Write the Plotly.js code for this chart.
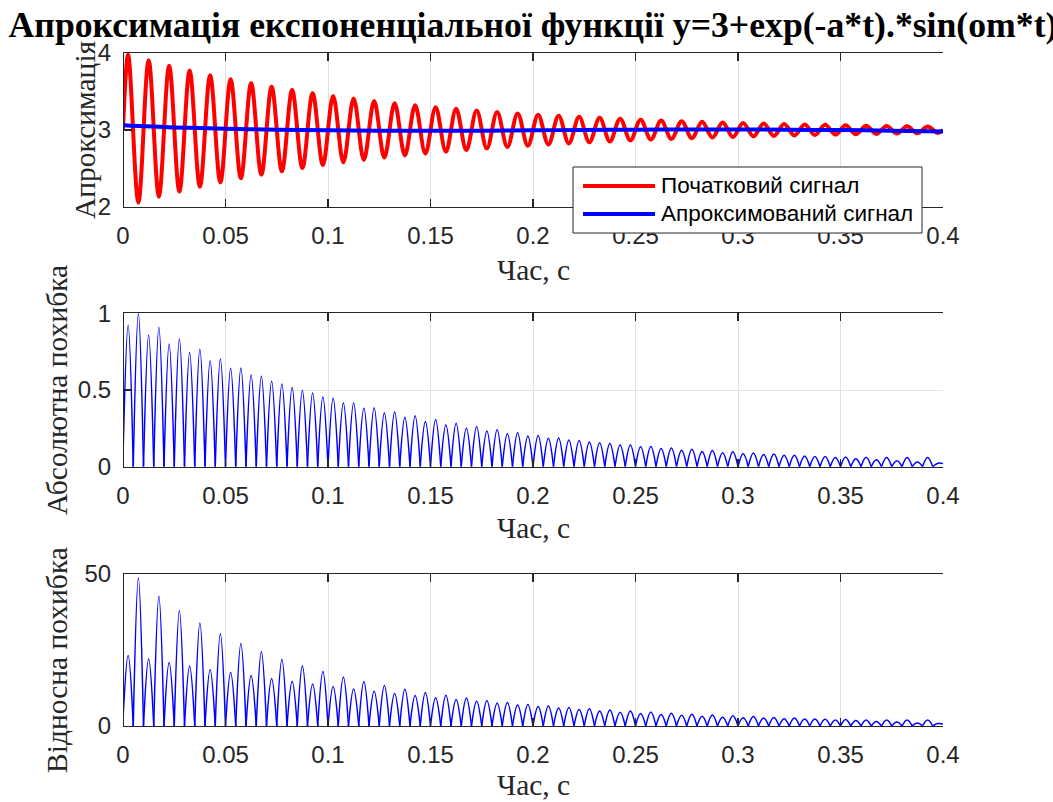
<!DOCTYPE html>
<html>
<head>
<meta charset="utf-8">
<script src="https://cdn.plot.ly/plotly-3.0.1.min.js"></script>
<style>
  html, body { margin: 0; padding: 0; background: #fff; }
  #chart { width: 1053px; height: 802px; }
</style>
</head>
<body>
<div id="chart"></div>
<script>
// Times of the signal's extrema (peaks and troughs alternate), s
const extremaTimes = [
  0.0025, 0.0075, 0.0125, 0.0175, 0.0225, 0.0275, 0.0325, 0.0375, 0.0425, 0.0475,
  0.0525, 0.0575, 0.0625, 0.0675, 0.0725, 0.0775, 0.0825, 0.0875, 0.0925, 0.0975,
  0.1025, 0.1075, 0.1125, 0.1175, 0.1225, 0.1275, 0.1325, 0.1375, 0.1425, 0.1475,
  0.1525, 0.1575, 0.1625, 0.1675, 0.1725, 0.1775, 0.1825, 0.1875, 0.1925, 0.1975,
  0.2025, 0.2075, 0.2125, 0.2175, 0.2225, 0.2275, 0.2325, 0.2375, 0.2425, 0.2475,
  0.2525, 0.2575, 0.2625, 0.2675, 0.2725, 0.2775, 0.2825, 0.2875, 0.2925, 0.2975,
  0.3025, 0.3075, 0.3125, 0.3175, 0.3225, 0.3275, 0.3325, 0.3375, 0.3425, 0.3475,
  0.3525, 0.3575, 0.3625, 0.3675, 0.3725, 0.3775, 0.3825, 0.3875, 0.3925, 0.3975
];

// Times where the error drops to zero (between neighbouring arches), s
const zeroTimes = [
  0, 0.005, 0.01, 0.015, 0.02, 0.025, 0.03, 0.035, 0.04, 0.045,
  0.05, 0.055, 0.06, 0.065, 0.07, 0.075, 0.08, 0.085, 0.09, 0.095,
  0.1, 0.105, 0.11, 0.115, 0.12, 0.125, 0.13, 0.135, 0.14, 0.145,
  0.15, 0.155, 0.16, 0.165, 0.17, 0.175, 0.18, 0.185, 0.19, 0.195,
  0.2, 0.205, 0.21, 0.215, 0.22, 0.225, 0.23, 0.235, 0.24, 0.245,
  0.25, 0.255, 0.26, 0.265, 0.27, 0.275, 0.28, 0.285, 0.29, 0.295,
  0.3, 0.305, 0.31, 0.315, 0.32, 0.325, 0.33, 0.335, 0.34, 0.345,
  0.35, 0.355, 0.36, 0.365, 0.37, 0.375, 0.38, 0.385, 0.39, 0.395, 0.4
];

// Original signal at its extrema
const signalStart = 3.0;
const signalEnd = 3.0;
const signalExtrema = [
  3.980, 2.053, 3.905, 2.131, 3.835, 2.197, 3.771, 2.259, 3.712, 2.316,
  3.657, 2.369, 3.607, 2.417, 3.560, 2.462, 3.517, 2.503, 3.477, 2.542,
  3.440, 2.577, 3.407, 2.609, 3.375, 2.639, 3.346, 2.667, 3.320, 2.693,
  3.295, 2.716, 3.273, 2.738, 3.252, 2.758, 3.232, 2.777, 3.214, 2.794,
  3.198, 2.810, 3.183, 2.824, 3.169, 2.838, 3.156, 2.850, 3.144, 2.862,
  3.133, 2.873, 3.122, 2.882, 3.113, 2.891, 3.104, 2.900, 3.096, 2.907,
  3.089, 2.915, 3.082, 2.921, 3.076, 2.927, 3.070, 2.933, 3.065, 2.938,
  3.060, 2.943, 3.055, 2.947, 3.051, 2.951, 3.047, 2.955, 3.043, 2.958
];

// Approximating curve
const approxTimes = [0, 0.025, 0.05, 0.075, 0.1, 0.125, 0.15, 0.175, 0.2,
                     0.225, 0.25, 0.275, 0.3, 0.325, 0.35, 0.375, 0.4];
const approxValues = [3.060, 3.032, 3.016, 3.002, 2.995, 2.989, 2.988, 2.990, 2.994,
                      2.999, 3.003, 3.005, 3.005, 3.002, 2.997, 2.990, 2.980];

// Absolute error: one arch per half-period
const absErrorStart = 0.06;
const absErrorEnd = 0.02;
const absErrorPeaks = [
  0.923, 0.999, 0.859, 0.909, 0.800, 0.833, 0.744, 0.765, 0.691, 0.702,
  0.642, 0.643, 0.598, 0.589, 0.557, 0.539, 0.517, 0.496, 0.480, 0.454,
  0.446, 0.416, 0.415, 0.382, 0.385, 0.350, 0.357, 0.322, 0.332, 0.295,
  0.307, 0.273, 0.284, 0.251, 0.262, 0.232, 0.241, 0.215, 0.221, 0.200,
  0.204, 0.186, 0.187, 0.174, 0.171, 0.161, 0.156, 0.151, 0.142, 0.141,
  0.130, 0.131, 0.118, 0.122, 0.108, 0.114, 0.099, 0.105, 0.091, 0.098,
  0.084, 0.089, 0.079, 0.082, 0.074, 0.075, 0.070, 0.067, 0.067, 0.060,
  0.064, 0.052, 0.062, 0.045, 0.060, 0.038, 0.060, 0.030, 0.060, 0.023
];

// Relative error, %
const relErrorStart = 2.0;
const relErrorEnd = 0.68;
const relErrorPeaks = [
  23.2, 48.7, 22.0, 42.7, 20.9, 37.9, 19.7, 33.9, 18.6, 30.3,
  17.6, 27.1, 16.6, 24.4, 15.6, 21.9, 14.7, 19.8, 13.8, 17.9,
  13.0, 16.1, 12.2, 14.6, 11.4, 13.3, 10.7, 12.1, 10.0, 11.0,
  9.3, 10.1, 8.7, 9.2, 8.1, 8.4, 7.5, 7.7, 6.9, 7.1,
  6.4, 6.6, 5.9, 6.1, 5.4, 5.7, 4.9, 5.3, 4.5, 4.9,
  4.1, 4.6, 3.8, 4.2, 3.5, 3.9, 3.2, 3.6, 2.9, 3.4,
  2.7, 3.1, 2.6, 2.8, 2.4, 2.6, 2.3, 2.3, 2.2, 2.0,
  2.1, 1.8, 2.0, 1.5, 2.0, 1.3, 2.0, 1.0, 2.0, 0.8
];

const xTickVals = [0, 0.05, 0.1, 0.15, 0.2, 0.25, 0.3, 0.35, 0.4];

const seriesNames = ['Початковий сигнал', 'Апроксимований сигнал'];
const seriesColors = ['#ff0000', '#0000ff'];

// Each arch is its own smoothed segment: zero -> peak -> zero, split by a gap
function archSeries(peaks, startVal, endVal) {
  const x = [], y = [];
  for (let k = 0; k < peaks.length; k++) {
    x.push(zeroTimes[k], extremaTimes[k], zeroTimes[k + 1], null);
    y.push(k === 0 ? startVal : 0, peaks[k], k === peaks.length - 1 ? endVal : 0, null);
  }
  return { x, y };
}

const absArch = archSeries(absErrorPeaks, absErrorStart, absErrorEnd);
const relArch = archSeries(relErrorPeaks, relErrorStart, relErrorEnd);

const traces = [
  {
    x: [0].concat(extremaTimes, [0.4]),
    y: [signalStart].concat(signalExtrema, [signalEnd]),
    xaxis: 'x', yaxis: 'y', mode: 'lines', name: seriesNames[0], showlegend: false,
    line: { color: seriesColors[0], width: 4, shape: 'spline', smoothing: 1 }
  },
  {
    x: approxTimes, y: approxValues,
    xaxis: 'x', yaxis: 'y', mode: 'lines', name: seriesNames[1], showlegend: false,
    line: { color: seriesColors[1], width: 4, shape: 'spline', smoothing: 1 }
  },
  {
    x: absArch.x, y: absArch.y, xaxis: 'x2', yaxis: 'y2', mode: 'lines',
    showlegend: false, connectgaps: false,
    line: { color: '#0000ff', width: 1.5, shape: 'spline', smoothing: 1.1 }
  },
  {
    x: relArch.x, y: relArch.y, xaxis: 'x3', yaxis: 'y3', mode: 'lines',
    showlegend: false, connectgaps: false,
    line: { color: '#0000ff', width: 1.5, shape: 'spline', smoothing: 1.1 }
  }
];

const axisColor = '#262626';
const sans = 'Liberation Sans, Arial, sans-serif';
const serif = 'Liberation Serif, Times New Roman, serif';
const tickFont = { family: sans, size: 24, color: axisColor };
const axisBase = {
  showline: true, mirror: 'ticks', linecolor: axisColor, linewidth: 1.4,
  ticks: 'inside', ticklen: 8, tickwidth: 1.4, tickcolor: axisColor,
  showgrid: true, gridcolor: '#e2e2e2', gridwidth: 1, zeroline: false,
  tickfont: tickFont, fixedrange: true
};

function xAxis(anchor) {
  return Object.assign({}, axisBase, {
    anchor: anchor, domain: [0, 1], range: [0, 0.4],
    tickmode: 'array', tickvals: xTickVals, ticklabelstandoff: 7
  });
}
function yAxis(domain, range, ticks) {
  return Object.assign({}, axisBase, {
    anchor: 'free', position: 0, domain: domain, range: range,
    tickmode: 'array', tickvals: ticks, ticklabelstandoff: 7
  });
}

const labelFont = { family: serif, size: 29.5, color: axisColor };

function label(text, x, y, angle) {
  return {
    text: text, xref: 'paper', yref: 'paper', x: x, y: y,
    xanchor: 'center', yanchor: 'middle', showarrow: false,
    textangle: angle || 0, font: labelFont
  };
}

// Legend box drawn in paper coordinates over the first panel
const legendBox = { x0: 0.5488, x1: 0.9744, y0: 0.7325, y1: 0.8306 };
const legendRows = [0.8024, 0.7608];
const legendLine = { x0: 0.5610, x1: 0.6488 };
const legendTextX = 0.6537;

const shapes = [
  {
    type: 'rect', xref: 'paper', yref: 'paper', layer: 'above',
    x0: legendBox.x0, x1: legendBox.x1, y0: legendBox.y0, y1: legendBox.y1,
    fillcolor: '#ffffff', line: { color: axisColor, width: 1 }
  }
].concat(legendRows.map((yy, i) => ({
  type: 'line', xref: 'paper', yref: 'paper', layer: 'above',
  x0: legendLine.x0, x1: legendLine.x1, y0: yy, y1: yy,
  line: { color: seriesColors[i], width: 4 }
})));

const legendLabels = legendRows.map((yy, i) => ({
  text: seriesNames[i], xref: 'paper', yref: 'paper', x: legendTextX, y: yy,
  xanchor: 'left', yanchor: 'middle', showarrow: false,
  font: { family: sans, size: 22.5, color: '#000000' }
}));

const layout = {
  width: 1053, height: 802,
  margin: { l: 123, r: 110, t: 53, b: 76 },
  paper_bgcolor: '#ffffff', plot_bgcolor: '#ffffff',
  title: {
    text: 'Апроксимація експоненціальної функції y=3+exp(-a*t).*sin(om*t)',
    font: { family: serif, size: 35.7, weight: 'bold', color: '#000000' },
    xref: 'paper', x: 0.5, xanchor: 'center',
    yref: 'container', y: 0.969, yanchor: 'middle'
  },
  xaxis: xAxis('y'),
  xaxis2: xAxis('y2'),
  xaxis3: xAxis('y3'),
  yaxis: yAxis([0.7716, 1], [2, 4], [2, 3, 4]),
  yaxis2: yAxis([0.3853, 0.6132], [0, 1], [0, 0.5, 1]),
  yaxis3: yAxis([0, 0.2259], [0, 50], [0, 50]),
  showlegend: false,
  shapes: shapes,
  annotations: [
    label('Час, с', 0.5, 0.6776),
    label('Час, с', 0.5, 0.2942),
    label('Час, с', 0.5, -0.0877),
    label('Апроксимація', -0.0463, 0.8856, -90),
    label('Абсолютна похибка', -0.0805, 0.4993, -90),
    label('Відносна похибка', -0.0805, 0.0981, -90)
  ].concat(legendLabels)
};

Plotly.newPlot('chart', traces, layout, { displayModeBar: false, staticPlot: true });
</script>
</body>
</html>
